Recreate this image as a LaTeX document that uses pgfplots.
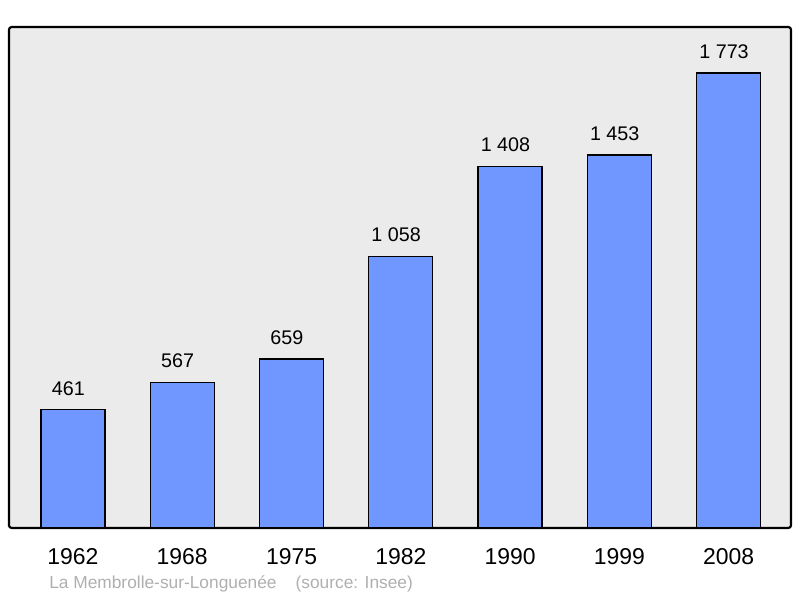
\documentclass[border=0pt]{standalone}
\usepackage{pgfplots}
\pgfplotsset{compat=1.18}
\usepackage{fontspec}
\setmainfont{Liberation Sans}
\definecolor{barblue}{RGB}{112,150,255}
\definecolor{bggray}{RGB}{235,235,235}
\definecolor{footgray}{RGB}{175,175,175}
\begin{document}
\begin{tikzpicture}
\path (0pt,0pt) rectangle (600pt,448.5pt);
\begin{axis}[
  at={(6.75pt,52.5pt)}, anchor=south west,
  scale only axis, width=586.5pt, height=375.75pt,
  xmin=-0.585, xmax=6.57, ymin=0, ymax=1952,
  axis background/.style={fill=bggray},
  axis line style={line width=1.6pt, rounded corners=2pt},
  ytick=\empty,
  xtick=data, xticklabels={1962,1968,1975,1982,1990,1999,2008},
  major tick length=0pt,
  xticklabel style={font=\fontsize{17.2pt}{20pt}\selectfont, yshift=-11.5pt},
  /pgf/number format/assume math mode=true,
  ybar, bar width=48pt,
  nodes near coords={\pgfmathprintnumber[1000 sep={\ }]{\pgfplotspointmeta}},
  every node near coord/.append style={font=\fontsize{14.8pt}{17pt}\selectfont, yshift=7pt, xshift=-3.5pt},
  clip=false,
]
\addplot[fill=barblue, draw=black, line width=1pt] coordinates {
(0,461) (1,567) (2,659) (3,1058) (4,1408) (5,1453) (6,1773)};
\end{axis}
\node[anchor=west, text=footgray, font=\fontsize{13pt}{15pt}\selectfont, inner sep=0pt] at (36.75pt,10.5pt) {La Membrolle-sur-Longuenée\hspace{1.1em}(source: Insee)};
\end{tikzpicture}
\end{document}
